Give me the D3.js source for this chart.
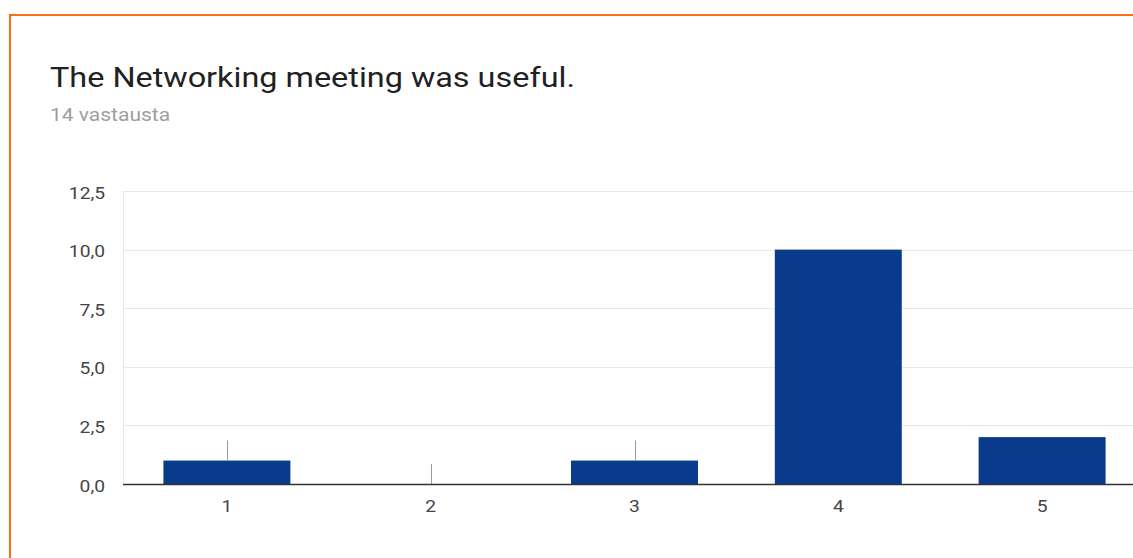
<!DOCTYPE html>
<html><head><meta charset="utf-8">
<script src="https://cdn.jsdelivr.net/npm/d3@7"></script>
<style>html,body{margin:0;padding:0;background:#fff;overflow:hidden}</style>
</head><body>
<svg id="chart" width="1133" height="558"></svg>
<script>
const categories = ["1", "2", "3", "4", "5"];
const values = [1, 0, 1, 10, 2];
const yTicks = [0, 2.5, 5, 7.5, 10, 12.5];
const title = "The Networking meeting was useful.";
const subtitle = "14 vastausta";

const svg = d3.select("#chart");
const font = "Roboto, 'Noto Sans', Arial, sans-serif";
const stretchX = 1.2;
function stretch(sel) {
  sel.each(function() {
    const w = this.getComputedTextLength();
    d3.select(this).attr("textLength", w * stretchX).attr("lengthAdjust", "spacingAndGlyphs");
  });
}

// card border
svg.append("rect").attr("x", 10).attr("y", 15).attr("width", 1200).attr("height", 600)
  .attr("fill", "none").attr("stroke", "#ff6a1a").attr("stroke-width", 2);

svg.append("text").attr("x", 50).attr("y", 87).text(title)
  .attr("font-family", font).attr("font-size", 27).attr("fill", "#212121").call(stretch);
svg.append("text").attr("x", 50).attr("y", 121).text(subtitle)
  .attr("font-family", font).attr("font-size", 17.5).attr("fill", "#9e9e9e").call(stretch);

const left = 123, right = 1144;
const y = d3.scaleLinear().domain([0, 12.5]).range([484, 191]);
const x = d3.scaleBand().domain(categories).range([125, right])
  .paddingInner(0.377).paddingOuter(0.1885);

// gridlines
svg.append("g").selectAll("line").data(yTicks.slice(1)).join("line")
  .attr("x1", left).attr("x2", 1133)
  .attr("y1", d => Math.round(y(d)) + 0.5).attr("y2", d => Math.round(y(d)) + 0.5)
  .attr("stroke", "#e8e8e8").attr("stroke-width", 1);
svg.append("line").attr("x1", left + 0.5).attr("x2", left + 0.5)
  .attr("y1", y(12.5)).attr("y2", y(0)).attr("stroke", "#e8e8e8");

// y labels
svg.append("g").selectAll("text").data(yTicks).join("text")
  .attr("x", 105).attr("y", d => y(d) + 2).attr("dy", "0.35em")
  .attr("text-anchor", "end").attr("font-family", font).attr("font-size", 16)
  .attr("fill", "#444").text(d => d3.format(".1f")(d).replace(".", ","))
  .call(stretch);

// bars
svg.append("g").selectAll("rect").data(values).join("rect")
  .attr("x", (d, i) => x(categories[i]))
  .attr("y", d => y(d))
  .attr("width", x.bandwidth())
  .attr("height", d => y(0) - y(d))
  .attr("fill", "#0a3a8c");

// small stems above low bars
svg.append("g").selectAll("line").data(values.map((v, i) => ({v, c: categories[i]})).filter(d => d.v <= 1)).join("line")
  .attr("x1", d => Math.round(x(d.c) + x.bandwidth() / 2) + 0.5)
  .attr("x2", d => Math.round(x(d.c) + x.bandwidth() / 2) + 0.5)
  .attr("y1", d => y(d.v)).attr("y2", d => y(d.v) - 20)
  .attr("stroke", "#999").attr("stroke-width", 1);

// baseline
svg.append("line").attr("x1", left).attr("x2", 1133)
  .attr("y1", y(0) + 0.5).attr("y2", y(0) + 0.5).attr("stroke", "#333").attr("stroke-width", 1.3);

// x labels
svg.append("g").selectAll("text").data(categories).join("text")
  .attr("x", d => x(d) + x.bandwidth() / 2).attr("y", 512)
  .attr("text-anchor", "middle").attr("font-family", font).attr("font-size", 16)
  .attr("fill", "#444").text(d => d)
  .call(stretch);
</script>
</body></html>
